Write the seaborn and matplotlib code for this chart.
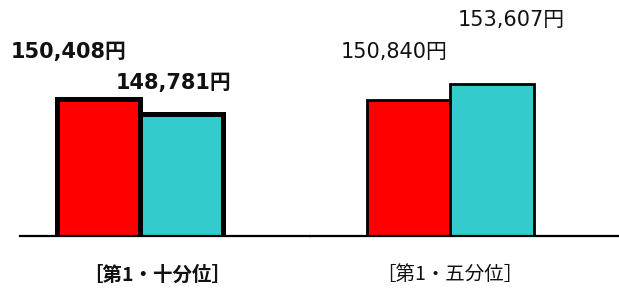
import matplotlib
matplotlib.use("Agg")
import matplotlib.pyplot as plt
import pandas as pd
import seaborn as sns

# data
groups = ['［第1・十分位］', '［第1・五分位］']
series = ['系列1', '系列2']
values_decile = [150408, 148781]
values_quintile = [150840, 153607]
colors = ['#FF0000', '#33CCCC']

sns.set_style('white')
plt.rcParams['font.family'] = ['DejaVu Sans', 'Noto Sans CJK JP']

# helper to build a small table for one group
def make_df(group, values):
    return pd.DataFrame({'group': [group] * len(values), 'series': series, 'value': values})

fig = plt.figure(figsize=(6.19, 2.88), dpi=100)

# layout per panel: axes box, ylim, edge width, bold or not, label offsets (pixels)
panels = [
    {'rect': [20/619, 52/288, 290/619, 236/288], 'ylim': (135548, 161138),
     'xlim': (-0.578, 0.819), 'lw': 3.6, 'weight': 'bold',
     'offsets': [(-30, 47), (-8, 31)], 'cat_dx': 17},
    {'rect': [310/619, 52/288, 309/619, 236/288], 'ylim': (127320, 168134),
     'xlim': (-0.677, 0.812), 'lw': 2.0, 'weight': 'normal',
     'offsets': [(-15, 48), (19, 64)], 'cat_dx': -1},
]
all_values = [values_decile, values_quintile]

for group, values, p in zip(groups, all_values, panels):
    ax = fig.add_axes(p['rect'])
    df = make_df(group, values)
    sns.barplot(data=df, x='group', y='value', hue='series', hue_order=series,
                palette=colors, saturation=1, edgecolor='black', linewidth=p['lw'],
                legend=False, ax=ax)
    ax.set_ylim(*p['ylim'])
    ax.set_xlim(*p['xlim'])
    ax.set_xticks([])
    ax.set_yticks([])
    ax.set_xlabel('')
    ax.set_ylabel('')
    for s in ['top', 'left', 'right']:
        ax.spines[s].set_visible(False)
    ax.spines['bottom'].set_color('black')
    ax.spines['bottom'].set_linewidth(1.6)

    # value labels above each bar
    for bar, v, (dx, dy) in zip(ax.patches, values, p['offsets']):
        xc = bar.get_x() + bar.get_width() / 2
        ax.annotate(f'{v:,}円', xy=(xc, v), xytext=(dx, dy), textcoords='offset pixels',
                    ha='center', va='center', fontsize=15, fontweight=p['weight'],
                    color='#111111', annotation_clip=False)

    # category label under the group
    ax.annotate(group, xy=(0, 0), xycoords=('data', 'axes fraction'),
                xytext=(p['cat_dx'], -39), textcoords='offset pixels',
                ha='center', va='center', fontsize=14, fontweight=p['weight'],
                family=['Noto Sans CJK JP', 'DejaVu Sans'], color='#111111',
                annotation_clip=False)

fig.savefig('out.png', dpi=100)
